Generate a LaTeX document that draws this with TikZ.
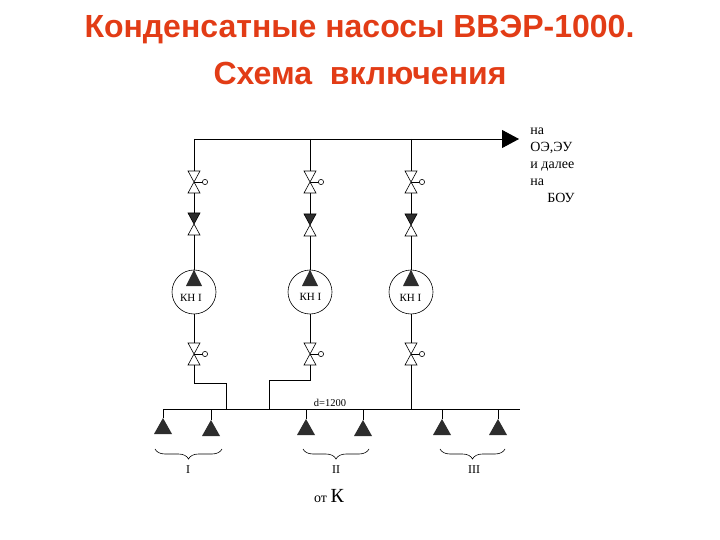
\documentclass[tikz,border=0pt]{standalone}
\usepackage{fontspec}
\setmainfont{Liberation Serif}
\newfontfamily\titlefont{Liberation Sans}
\usetikzlibrary{arrows.meta,decorations.pathreplacing}
\definecolor{titlered}{RGB}{226,60,22}
\definecolor{darkfill}{RGB}{45,45,45}

\begin{document}
\begin{tikzpicture}[x=1pt, y=-1pt, line width=.8pt,
                    title/.style={font=\titlefont\bfseries\fontsize{32}{36}\selectfont, text=titlered, inner sep=0pt, anchor=base},
                    label/.style={font=\fontsize{11}{13}\selectfont, inner sep=0pt},
                    side/.style={font=\fontsize{14}{17}\selectfont, align=left, anchor=west, inner sep=0pt},
                    pump/.style={circle, draw, line width=.6pt, minimum size=44pt, inner sep=0pt},
                    curly/.style={draw, line width=.6pt, decorate, decoration={brace, mirror, amplitude=10pt}},
                    valve/.pic={
                      \draw[line width=.6pt, fill=white] (-6,-11) -- (6,-11) -- (-6,11) -- (6,11) -- cycle;
                      \draw[line width=.6pt] (0,0) -- (9,0);
                      \draw[line width=.6pt, fill=white] (11,0) circle (2.6);
                      \coordinate (-top) at (0,-11);
                      \coordinate (-bot) at (0,11);
                    },
                    check/.pic={
                      \draw[line width=.6pt, fill=white] (0,0) -- (-6,11) -- (6,11) -- cycle;
                      \draw[line width=.6pt, fill=darkfill] (0,0) -- (-6,-11) -- (6,-11) -- cycle;
                      \coordinate (-top) at (0,-11);
                      \coordinate (-bot) at (0,11);
                    },
                    intake/.pic={
                      \fill[darkfill] (0,-8) -- (9,8) -- (-9,8) -- cycle;
                      \coordinate (-top) at (0,-8);
                    }
                    ]
\useasboundingbox (0,0) rectangle (720,540);

% title
\node[title] (title1) at (359.5,37.5) {Конденсатные насосы ВВЭР-1000.};
\node[title] (title2) at (360,85) {Схема\ \ включения};

% upper header
\coordinate (head1) at (194,139);
\coordinate (head2) at (310,139);
\coordinate (head3) at (411,139);
\coordinate (outlet) at (519,139);
\draw[-{Triangle[length=17pt,width=18pt]}] (head1) -- (outlet);
\node[side] (dest) at (530,165) {на\\ОЭ,ЭУ\\и далее\\на\\\hspace*{17pt}БОУ};

% branches
\pic (vu1) at (194,182) {valve};
\pic (vu2) at (310,182) {valve};
\pic (vu3) at (411,182) {valve};
\pic (ch1) at (194,224) {check};
\pic (ch2) at (310,225) {check};
\pic (ch3) at (411,225) {check};
\node[pump] (kn1) at (194,292) {};
\node[pump] (kn2) at (310,292) {};
\node[pump] (kn3) at (411,292) {};
\pic (vd1) at (194,354) {valve};
\pic (vd2) at (310,354) {valve};
\pic (vd3) at (411,354) {valve};
\fill[darkfill] (kn1.north) -- (202,286) -- (186,286) -- cycle;
\fill[darkfill] (kn2.north) -- (318,286) -- (302,286) -- cycle;
\fill[darkfill] (kn3.north) -- (419,286) -- (403,286) -- cycle;
\node[label] (lab1) at (191,298) {КН I};
\node[label] (lab2) at (310.5,297) {КН I};
\node[label] (lab3) at (410.5,298) {КН I};

\draw (head1) -- (vu1-top);
\draw (head2) -- (vu2-top);
\draw (head3) -- (vu3-top);
\draw (vu1-bot) -- (ch1-top);
\draw (vu2-bot) -- (ch2-top);
\draw (vu3-bot) -- (ch3-top);
\draw (ch1-bot) -- (kn1.north);
\draw (ch2-bot) -- (kn2.north);
\draw (ch3-bot) -- (kn3.north);
\draw (kn1.south) -- (vd1-top);
\draw (kn2.south) -- (vd2-top);
\draw (kn3.south) -- (vd3-top);

% lower header
\coordinate (left) at (163,409);
\coordinate (right) at (520,409);
\coordinate (in1) at (226,409);
\coordinate (in2) at (269,409);
\coordinate (in3) at (411,409);
\coordinate (bend1) at (194,383);
\coordinate (bend2) at (310,380);
\draw (left) -- (right);
\draw (vd1-bot) -- (bend1) -| (in1);
\draw (vd2-bot) -- (bend2) -| (in2);
\draw (vd3-bot) -- (in3);
\node[label, font=\fontsize{10.5}{12}\selectfont] (dia) at (330,403) {d=1200};

% condensers
\pic (k1) at (163,426) {intake};
\pic (k2) at (211,428) {intake};
\pic (k3) at (306,427) {intake};
\pic (k4) at (363,428) {intake};
\pic (k5) at (442,427) {intake};
\pic (k6) at (498,427) {intake};
\coordinate (t1) at (163,409);
\coordinate (t2) at (211,409);
\coordinate (t3) at (306,409);
\coordinate (t4) at (363,409);
\coordinate (t5) at (442,409);
\coordinate (t6) at (498,409);
\draw (t1) -- (k1-top);
\draw (t2) -- (k2-top);
\draw (t3) -- (k3-top);
\draw (t4) -- (k4-top);
\draw (t5) -- (k5-top);
\draw (t6) -- (k6-top);

% groups
\coordinate (b1a) at (155,449);
\coordinate (b1b) at (222,449);
\coordinate (b2a) at (303,449);
\coordinate (b2b) at (369,449);
\coordinate (b3a) at (440,449);
\coordinate (b3b) at (505,449);
\path[curly] (b1a) -- (b1b);
\path[curly] (b2a) -- (b2b);
\path[curly] (b3a) -- (b3b);
\node[label, font=\fontsize{12}{14}\selectfont] (g1) at (188,470) {I};
\node[label, font=\fontsize{12}{14}\selectfont] (g2) at (336,470) {II};
\node[label, font=\fontsize{12}{14}\selectfont] (g3) at (474,470) {III};
\node[label, font=\fontsize{14}{16}\selectfont] (src) at (329,496) {от {\fontsize{20}{22}\selectfont К}};
\end{tikzpicture}
\end{document}
